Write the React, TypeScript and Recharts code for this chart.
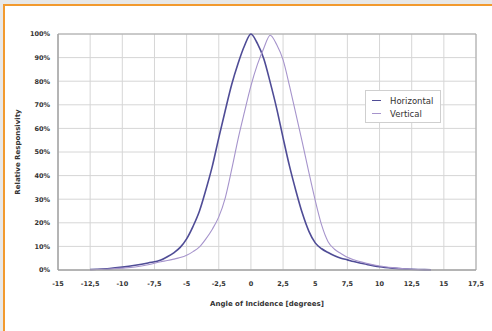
import { LineChart, Line, XAxis, YAxis, CartesianGrid, Legend, ReferenceArea } from 'recharts';

// angle of incidence in degrees
const angles = [
  -12.5, -12, -11, -10, -9, -8, -7, -6.5, -6, -5.5, -5, -4.5, -4, -3.5, -3, -2.5, -2, -1.5, -1, -0.5,
  0, 0.5, 1, 1.5, 2, 2.5, 3, 3.5, 4, 4.5, 5, 5.5, 6, 6.5, 7, 7.5, 8, 9, 10, 11, 12, 13, 14,
];

// relative responsivity in %
const horizontal = [
  0.2, 0.3, 0.6, 1.2, 2.0, 3.0, 4.2, 5.6, 7.3, 9.6, 13.2, 18.5, 25, 34, 44, 56, 67.5, 78.5, 87.5, 95,
  100, 96, 89.5, 79.5, 68.5, 56, 44, 33.5, 24, 16.5, 11.5, 9, 7.4, 6, 5, 4.3, 3.6, 2.4, 1.4, 0.8, 0.4, 0.2, 0.1,
];

const vertical = [
  0.1, 0.2, 0.4, 0.8, 1.3, 2.2, 3.5, 4.0, 4.6, 5.3, 6.3, 7.8, 9.8, 13.2, 17.3, 22.5, 30.5, 42.5, 55.5, 67,
  78, 87, 94, 99.5, 95.5, 89, 78, 66, 54, 41.5, 29.5, 19, 12, 8.8, 7, 5.4, 4.3, 2.8, 1.7, 1.0, 0.5, 0.2, 0.1,
];

const xTicks = [-15, -12.5, -10, -7.5, -5, -2.5, 0, 2.5, 5, 7.5, 10, 12.5, 15, 17.5];
const yTicks = [0, 10, 20, 30, 40, 50, 60, 70, 80, 90, 100];

const data = angles.map((angle, i) => ({
  angle,
  Horizontal: horizontal[i],
  Vertical: vertical[i],
}));

const tickStyle = { fontSize: 6.5, fontWeight: 'bold', fill: '#333', fontFamily: '"DejaVu Sans", sans-serif' };

function LegendBox({ payload }: { payload?: any[] }) {
  if (!payload) return null;
  return (
    <div
      style={{
        border: '1px solid #cfcfcf',
        background: '#fff',
        padding: '3px 6px 2px 6px',
        width: 62,
        fontFamily: '"DejaVu Sans", sans-serif',
        fontSize: 8.5,
        color: '#333',
      }}
    >
      {payload.map((p) => (
        <div key={p.value} style={{ display: 'flex', alignItems: 'center', height: 13 }}>
          <span style={{ display: 'inline-block', width: 9, height: 0, borderTop: `1px solid ${p.color}`, marginRight: 9 }} />
          <span>{p.value}</span>
        </div>
      ))}
    </div>
  );
}

export default function App() {
  return (
    <div style={{ position: 'fixed', left: 0, top: 0, width: 492, height: 331, background: '#e8e8e8', overflow: 'hidden' }}>
      <div
        style={{
          position: 'absolute',
          left: 3,
          top: 4,
          width: 500,
          height: 340,
          background: '#fff',
          borderTop: '2px solid #f29a2e',
          borderLeft: '2px solid #f29a2e',
        }}
      />
      <div style={{ position: 'absolute', left: 0, top: 0 }}>
        <LineChart width={492} height={331} data={data} margin={{ top: 34, right: 16, bottom: 21, left: 0 }}>
          <CartesianGrid stroke="#d6d6d6" strokeWidth={1} />
          <ReferenceArea x1={-15} x2={17.5} y1={0} y2={100} fill="none" stroke="#a8a8a8" />
          <XAxis
            dataKey="angle"
            type="number"
            domain={[-15, 17.5]}
            ticks={xTicks}
            interval={0}
            tickFormatter={(v) => String(v).replace('.', ',')}
            tick={tickStyle}
            tickLine={false}
            tickSize={0}
            tickMargin={11}
            stroke="#a0a0a0"
            height={40}
            label={{
              value: 'Angle of Incidence [degrees]',
              position: 'insideBottom',
              offset: 4,
              style: { fontSize: 7, fontWeight: 'bold', fill: '#333', fontFamily: '"DejaVu Sans", sans-serif' },
            }}
          />
          <YAxis
            type="number"
            domain={[0, 100]}
            ticks={yTicks}
            interval={0}
            tickFormatter={(v) => `${v}%`}
            tick={tickStyle}
            tickLine={false}
            tickSize={0}
            tickMargin={8}
            stroke="#a0a0a0"
            width={58}
            label={{
              value: 'Relative Responsivity',
              angle: -90,
              position: 'insideLeft',
              offset: 18,
              style: { textAnchor: 'middle', fontSize: 7, fontWeight: 'bold', fill: '#333', fontFamily: '"DejaVu Sans", sans-serif' },
            }}
          />
          <Legend
            layout="horizontal"
            verticalAlign="middle"
            align="center"
            content={<LegendBox />}
            wrapperStyle={{ position: 'absolute', left: 365, top: 90, width: 'auto' }}
          />
          <Line
            type="monotone"
            dataKey="Horizontal"
            stroke="#4f4c96"
            strokeWidth={1.6}
            dot={false}
            isAnimationActive={false}
          />
          <Line
            type="monotone"
            dataKey="Vertical"
            stroke="#a694cc"
            strokeWidth={1.1}
            dot={false}
            isAnimationActive={false}
          />
        </LineChart>
      </div>
    </div>
  );
}
